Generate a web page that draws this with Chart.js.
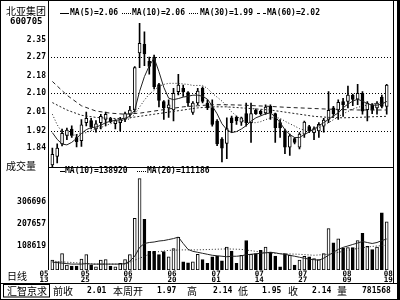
<!DOCTYPE html>
<html>
<head>
<meta charset="utf-8">
<script src="https://cdn.jsdelivr.net/npm/chart.js@4.4.1/dist/chart.umd.min.js"></script>
<style>
body{margin:0;background:#fff}
#box{position:relative;width:400px;height:300px;overflow:hidden;background:#fff}
#box canvas{position:absolute;left:0;top:0}
.t{position:absolute;white-space:nowrap;color:#000;line-height:1}
.cn{font-family:"Noto Sans CJK SC";font-size:10px}
.n{font-family:"DejaVu Sans Mono";font-weight:bold;font-size:8px}
.mk{position:absolute;height:0;width:9px;border-top:1px solid #000}
</style>
</head>
<body>
<div id="box">
<canvas id="kChart" width="400" height="300"></canvas>

<div class="t cn" style="left:6px;top:6px">北亚集团</div>
<div class="t n" style="left:10px;top:17px;font-size:9px">600705</div>

<div class="mk" style="left:60px;top:13px"></div>
<div class="t n" style="left:70px;top:9px">MA(5)=2.06</div>
<div class="mk" style="left:122px;top:13px;border-top-style:dotted"></div>
<div class="t n" style="left:132px;top:9px">MA(10)=2.06</div>
<div class="mk" style="left:189px;top:13px;border-top-style:dotted"></div>
<div class="t n" style="left:200px;top:9px">MA(30)=1.99</div>
<div class="mk" style="left:257px;top:13px;border-top-style:dashed"></div>
<div class="t n" style="left:267px;top:9px">MA(60)=2.02</div>

<div class="t cn" style="left:6px;top:161px">成交量</div>
<div class="mk" style="left:60px;top:171px;width:5px"></div>
<div class="t n" style="left:65px;top:167px">MA(10)=138920</div>
<div class="mk" style="left:137px;top:171px;border-top-style:dotted"></div>
<div class="t n" style="left:147px;top:167px">MA(20)=111186</div>

<div class="t cn" style="left:7px;top:271px">日线</div>

<div class="t cn" style="left:7px;top:286px">汇智京求</div>
<div class="t cn" style="left:53px;top:286px">前收</div>
<div class="t n" style="left:87px;top:287px">2.01</div>
<div class="t cn" style="left:113px;top:286px">本周开</div>
<div class="t n" style="left:157px;top:287px">1.97</div>
<div class="t cn" style="left:187px;top:286px">高</div>
<div class="t n" style="left:213px;top:287px">2.14</div>
<div class="t cn" style="left:238px;top:286px">低</div>
<div class="t n" style="left:262px;top:287px">1.95</div>
<div class="t cn" style="left:288px;top:286px">收</div>
<div class="t n" style="left:312px;top:287px">2.14</div>
<div class="t cn" style="left:337px;top:286px">量</div>
<div class="t n" style="left:362px;top:287px">781568</div>
</div>

<script>
// daily candles
const open = [1.76,1.80,1.86,1.90,1.93,1.89,1.875,1.96,1.97,1.93,
  1.96,1.975,1.98,1.955,1.96,1.975,2.00,2.02,2.29,2.33,
  2.25,2.27,2.14,2.06,2.03,2.02,2.107,2.122,2.102,2.009,
  2.053,2.122,2.053,2.03,1.968,1.882,1.862,1.983,1.987,1.963,
  2.003,1.96,2.019,2.014,2.006,2.037,2.003,1.96,1.921,1.844,
  1.885,1.844,1.906,1.941,1.913,1.921,1.944,1.975,2.03,2.019,
  2.06,2.06,2.09,2.071,2.099,2.022,2.045,2.03,2.081,2.037];
const close = [1.81,1.84,1.91,1.925,1.90,1.87,1.95,1.98,1.94,1.955,
  1.99,2.00,1.965,1.97,1.975,2.003,2.02,2.22,2.335,2.285,
  2.226,2.13,2.065,2.03,2.045,2.099,2.138,2.105,2.053,2.053,
  2.11,2.06,2.03,1.952,1.859,1.839,1.932,1.96,1.968,1.983,
  1.96,2.003,2.003,2.003,2.034,2.006,1.937,1.935,1.844,1.898,
  1.867,1.906,1.963,1.921,1.932,1.952,1.972,2.019,2.003,2.056,
  2.045,2.091,2.07,2.099,2.014,2.053,2.019,2.053,2.037,2.138];
const high = [1.84,1.86,1.93,1.935,1.945,1.905,1.975,2.01,1.98,1.97,
  2.00,2.01,1.985,1.975,1.985,2.01,2.037,2.225,2.43,2.39,
  2.27,2.28,2.146,2.065,2.068,2.122,2.189,2.138,2.107,2.06,
  2.122,2.13,2.068,2.068,1.975,1.89,1.983,1.991,1.991,1.987,
  2.053,2.053,2.025,2.02,2.045,2.045,2.006,1.975,1.93,1.906,
  1.89,1.913,1.968,1.947,1.94,1.96,1.98,2.107,2.037,2.068,
  2.075,2.133,2.095,2.141,2.107,2.06,2.05,2.06,2.09,2.141];
const low = [1.75,1.77,1.85,1.88,1.89,1.845,1.848,1.945,1.93,1.915,
  1.93,1.945,1.96,1.93,1.92,1.965,1.99,2.01,2.22,2.23,
  2.19,2.12,2.035,1.975,1.985,1.968,2.091,2.084,2.037,1.999,
  2.045,2.053,2.022,1.944,1.851,1.774,1.79,1.913,1.952,1.947,
  1.944,1.867,1.999,1.995,1.999,1.975,1.867,1.89,1.813,1.805,
  1.859,1.836,1.89,1.913,1.88,1.89,1.915,1.96,1.99,1.975,
  1.99,2.03,2.04,2.045,2.0,1.968,2.003,2.0,2.03,2.0];
const volume = [44000,36500,73500,22000,17600,17600,48400,69000,22000,14500,
  44000,47000,17600,14500,29500,47000,69000,232000,410000,227000,
  83600,83600,69000,82000,58500,95500,146500,36500,32100,36500,
  70400,47000,29500,58500,61600,41000,102500,85000,29500,66000,
  132000,70400,73500,88000,102500,80500,62000,14500,73500,66000,
  22000,44000,61600,58500,51500,47000,73500,186000,122000,139500,
  98000,100000,100000,132000,164000,105600,91000,102500,256500,215600];

// moving averages as drawn
const ma5 = [1.913,1.881,1.859,1.855,1.867,1.886,1.909,1.927,1.937,1.939,
  1.948,1.960,1.967,1.971,1.974,1.981,1.990,2.020,2.108,2.178,
  2.229,2.266,2.201,2.127,2.076,2.069,2.074,2.081,2.085,2.090,
  2.090,2.085,2.071,2.039,2.002,1.955,1.927,1.913,1.918,1.930,
  1.946,1.967,1.983,1.992,2.002,2.006,1.988,1.960,1.927,1.904,
  1.890,1.890,1.904,1.916,1.930,1.946,1.960,1.976,1.992,2.006,
  2.030,2.048,2.062,2.071,2.062,2.050,2.043,2.043,2.048,2.060];
const ma10 = [2.000,1.950,1.915,1.899,1.899,1.904,1.909,1.913,1.923,1.930,
  1.937,1.946,1.955,1.962,1.967,1.974,1.978,1.999,2.034,2.067,
  2.095,2.113,2.132,2.141,2.146,2.146,2.146,2.143,2.141,2.136,
  2.136,2.136,2.122,2.099,2.081,2.062,2.039,2.011,1.992,1.974,
  1.962,1.960,1.960,1.965,1.974,1.983,1.985,1.981,1.967,1.955,
  1.944,1.932,1.925,1.923,1.927,1.937,1.948,1.960,1.974,1.988,
  2.002,2.013,2.025,2.032,2.039,2.043,2.048,2.053,2.055,2.060];
const slowIdx = [0,3,6,9,12,15,18,21,24,27,30,33,36,39,42,45,48,51,54,57,60,63,66,69];
const ma30 = [2.055,2.02,1.995,1.985,1.98,1.98,1.99,2.0,2.01,2.02,2.03,2.035,
  2.035,2.03,2.025,2.02,2.01,2.0,1.99,1.985,1.983,1.985,1.988,1.99];
const ma60 = [2.155,2.09,2.04,2.015,2.005,2.0,2.005,2.015,2.025,2.035,2.04,2.045,
  2.045,2.043,2.04,2.037,2.033,2.03,2.027,2.024,2.022,2.02,2.02,2.02];
const volMa10 = [35200,33000,30800,28600,26400,26400,26400,28600,26400,26400,
  26400,26400,26400,26400,26400,28600,39600,61600,101200,118800,
  123200,125400,129800,132000,136400,140800,147400,118800,92400,83600,
  79200,74800,70400,66000,63800,61600,59400,61600,61600,63800,
  68200,70400,72600,74800,77000,79200,77000,72600,70400,66000,
  61600,57200,52800,48400,46200,44000,52800,66000,79200,92400,
  101200,107800,114400,121000,127600,123200,118800,123200,132000,138920];
const volMa20 = [39600,35200,30800,26400,26400,26400,52800,79200,88000,90200,90200,92400,
  94600,92400,83600,74800,72600,70400,66000,70400,83600,96800,105600,111186];

// axis labels
const priceTicks = [2.35, 2.27, 2.18, 2.10, 2.01, 1.92, 1.84];
const priceGrid = [2.27, 2.10, 1.92];
const volTicks = [108619, 207657, 306696];
const dateLabels = [['05','13'],['05','25'],['06','07'],['06','20'],['07','01'],['07','14'],['07','27'],['08','09'],['08','19']];
const datePos = [-1.7, 6.8, 15.6, 24.7, 33.8, 42.7, 51.7, 60.8, 69.3];

const idx = open.map((_, i) => i);
const up = idx.map(i => close[i] >= open[i]);
const pts = (xs, ys) => ys.map((v, k) => ({x: xs[k], y: v}));
const mono = {family: 'DejaVu Sans Mono', size: 8, weight: 'bold'};

// frame lines round the panels
const framePlugin = {
    id: 'frame',
    afterDraw(chart) {
        const c = chart.ctx;
        const a = chart.chartArea;
        const sep = Math.round(chart.scales.yPrice.bottom);
        c.save();
        c.fillStyle = '#000';
        c.fillRect(0, 0, 400, 1);
        c.fillRect(0, 0, 1, 300);
        c.fillRect(0, 299, 400, 1);
        c.fillRect(397, 0, 3, 300);
        c.fillRect(a.left, 0, 1, a.bottom);
        c.fillRect(a.right, 0, 1, 283);
        c.fillRect(a.left, sep, a.right - a.left, 1);
        c.fillRect(0, 283, 400, 1);
        c.strokeStyle = '#000';
        c.lineWidth = 1;
        c.strokeRect(3.5, 284.5, 46, 12.5);
        c.restore();
    }
};

Chart.defaults.color = '#000';

new Chart(document.getElementById('kChart'), {
    type: 'bar',
    data: {
        datasets: [
            // wicks
            { type: 'bar', yAxisID: 'yPrice', data: idx.map(i => ({x: i, y: [low[i], high[i]]})),
              backgroundColor: '#000', barThickness: 1, grouped: false, order: 3 },
            // bodies
            { type: 'bar', yAxisID: 'yPrice', data: idx.map(i => ({x: i, y: [open[i], close[i]]})),
              backgroundColor: idx.map(i => up[i] ? '#fff' : '#000'), borderColor: '#000',
              borderWidth: 1, borderSkipped: false, barThickness: 3, grouped: false, order: 2 },
            { type: 'line', yAxisID: 'yPrice', data: pts(idx, ma5), borderColor: '#222', borderWidth: 1, pointRadius: 0, order: 1 },
            { type: 'line', yAxisID: 'yPrice', data: pts(idx, ma10), borderColor: '#222', borderWidth: 1, borderDash: [1, 2], pointRadius: 0, order: 1 },
            { type: 'line', yAxisID: 'yPrice', data: pts(slowIdx, ma30), borderColor: '#222', borderWidth: 1, borderDash: [2, 2], pointRadius: 0, order: 1 },
            { type: 'line', yAxisID: 'yPrice', data: pts(slowIdx, ma60), borderColor: '#222', borderWidth: 1, borderDash: [4, 3], pointRadius: 0, order: 1 },
            // volume
            { type: 'bar', yAxisID: 'yVol', data: idx.map(i => ({x: i, y: volume[i]})),
              backgroundColor: idx.map(i => up[i] ? '#fff' : '#000'), borderColor: '#000',
              borderWidth: 1, borderSkipped: false, barThickness: 3, grouped: false, order: 2 },
            { type: 'line', yAxisID: 'yVol', data: pts(idx, volMa10), borderColor: '#222', borderWidth: 1, pointRadius: 0, order: 1 },
            { type: 'line', yAxisID: 'yVol', data: pts(slowIdx, volMa20), borderColor: '#222', borderWidth: 1, borderDash: [1, 2], pointRadius: 0, order: 1 }
        ]
    },
    options: {
        responsive: false,
        animation: false,
        devicePixelRatio: 1,
        events: [],
        layout: { padding: { left: 0, right: 7, top: 2, bottom: 16 } },
        plugins: { legend: { display: false }, tooltip: { enabled: false } },
        scales: {
            x: {
                type: 'linear', min: -0.9, max: 70.3, offset: false,
                grid: { display: false, drawTicks: false, offset: false }, border: { display: false },
                afterBuildTicks: s => { s.ticks = datePos.map(v => ({value: v})); },
                afterFit: s => { s.height = 14; },
                ticks: { autoSkip: false, maxRotation: 0, padding: 1,
                         font: {family: 'DejaVu Sans Mono', size: 7.5, weight: 'bold', lineHeight: 0.82},
                         callback: (v, i) => dateLabels[i] }
            },
            yVol: {
                type: 'linear', position: 'left', stack: 'k', stackWeight: 105,
                min: 0, max: 462000, beginAtZero: false,
                grid: { display: false, drawTicks: false }, border: { display: false },
                afterBuildTicks: s => { s.ticks = volTicks.map(v => ({value: v})); },
                afterFit: s => { s.width = 48; },
                ticks: { autoSkip: false, padding: 2, font: mono, callback: v => String(v) }
            },
            yPrice: {
                type: 'linear', position: 'left', stack: 'k', stackWeight: 163,
                min: 1.751, max: 2.508, beginAtZero: false,
                grid: { drawTicks: false, lineWidth: 1,
                        color: c => (c.tick && priceGrid.includes(c.tick.value)) ? '#000' : 'rgba(0,0,0,0)' },
                border: { display: false, dash: [1, 2] },
                afterBuildTicks: s => { s.ticks = priceTicks.map(v => ({value: v})); },
                afterFit: s => { s.width = 48; },
                ticks: { autoSkip: false, padding: 2, font: mono, callback: v => v.toFixed(2) }
            }
        }
    },
    plugins: [framePlugin]
});
</script>
</body>
</html>
